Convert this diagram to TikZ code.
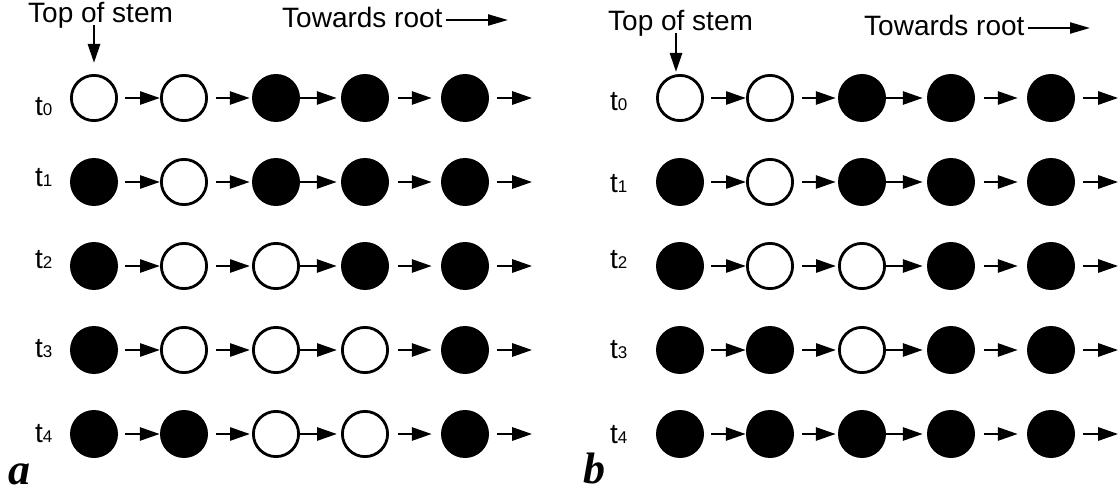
\documentclass[tikz,border=0pt]{standalone}
\usepackage{fontspec}
\setmainfont{Liberation Sans}
\newfontfamily\panelfont{Liberation Serif}
\usetikzlibrary{arrows.meta}
\tikzset{
  openc/.style={circle,draw=black,line width=2.8pt,minimum size=45.2pt,inner sep=0pt},
  fullc/.style={circle,fill=black,minimum size=48pt,inner sep=0pt},
  link/.style={line width=2.8pt,-{Triangle[length=20pt,width=13pt]}},
  rootarrow/.style={line width=2.2pt,-{Triangle[length=20pt,width=11pt]}},
  txt/.style={anchor=base west,inner sep=0pt,font=\fontsize{28}{30}\selectfont},
  panel/.style={anchor=base west,inner sep=0pt,text depth=0pt,font=\fontsize{44}{46}\selectfont\panelfont\bfseries\itshape},
}
\newcommand{\tlab}[1]{\fontsize{28}{28}\selectfont t{\fontsize{17}{17}\selectfont #1}}
\begin{document}
\begin{tikzpicture}[x=1pt,y=-1pt]
\useasboundingbox (0,0) rectangle (1120,492);
% ---------- panel a ----------
\foreach \r/\y/\pat in {0/98/{openc,openc,fullc,fullc,fullc},
                        1/182/{fullc,openc,fullc,fullc,fullc},
                        2/266/{fullc,openc,openc,fullc,fullc},
                        3/350/{fullc,openc,openc,openc,fullc},
                        4/434/{fullc,fullc,openc,openc,fullc}}{
  \foreach \s [count=\c] in \pat {
    \pgfmathsetmacro{\xx}{{94,184,276,365,465}[\c-1]}
    \node[\s] (a-\r-\c) at (\xx,\y) {};
  }
}
% ---------- panel b ----------
\foreach \r/\y/\pat in {0/98/{openc,openc,fullc,fullc,fullc},
                        1/182/{fullc,openc,fullc,fullc,fullc},
                        2/266/{fullc,openc,openc,fullc,fullc},
                        3/350/{fullc,fullc,openc,fullc,fullc},
                        4/434/{fullc,fullc,fullc,fullc,fullc}}{
  \foreach \s [count=\c] in \pat {
    \pgfmathsetmacro{\xx}{{680,770,862,951,1051}[\c-1]}
    \node[\s] (b-\r-\c) at (\xx,\y) {};
  }
}
% connectors
\foreach \p in {a,b}{
  \foreach \r in {0,...,4}{
    \foreach \c/\n/\sa/\sb in {1/2/7/0,2/3/8/2,3/4/0/4,4/5/9/9}{
      \draw[link,shorten <=\sa pt,shorten >=\sb pt] (\p-\r-\c) -- (\p-\r-\n);
    }
    \coordinate (\p-\r-e) at ([xshift=43pt]\p-\r-5.east);
    \draw[link,shorten <=8pt] (\p-\r-5) -- (\p-\r-e);
  }
}
% row labels
\foreach \r/\yb in {0/116,1/187,2/269,3/357,4/442}{
  \node[anchor=base west,inner sep=0pt] (la-\r) at (35,\yb) {\tlab{\r}};
}
\foreach \r/\yb in {0/111,1/193,2/268,3/358,4/443}{
  \node[anchor=base west,inner sep=0pt] (lb-\r) at (610,\yb) {\tlab{\r}};
}
% headers panel a
\node[txt] (tsa) at (28,23) {Top of stem};
\coordinate (tsa-s) at (94,25);
\draw[link,-{Triangle[length=19pt,width=12pt]},shorten >=11pt] (tsa-s) -- (a-0-1);
\node[txt] (tra) at (282,28) {Towards root};
\coordinate (tra-e) at (508,20);
\draw[rootarrow,shorten <=3pt] (tra.east |- tra-e) -- (tra-e);
% headers panel b
\node[txt] (tsb) at (608,31) {Top of stem};
\coordinate (tsb-s) at (676,33);
\draw[link,-{Triangle[length=19pt,width=12pt]},shorten >=2pt] (tsb-s) -- (tsb-s |- b-0-1.north);
\node[txt] (trb) at (864,36) {Towards root};
\coordinate (trb-e) at (1090,28);
\draw[rootarrow,shorten <=3pt] (trb.east |- trb-e) -- (trb-e);
% panel letters
\node[panel] (pa) at (8,484) {a};
\node[panel] (pb) at (583,483) {b};
\end{tikzpicture}
\end{document}
